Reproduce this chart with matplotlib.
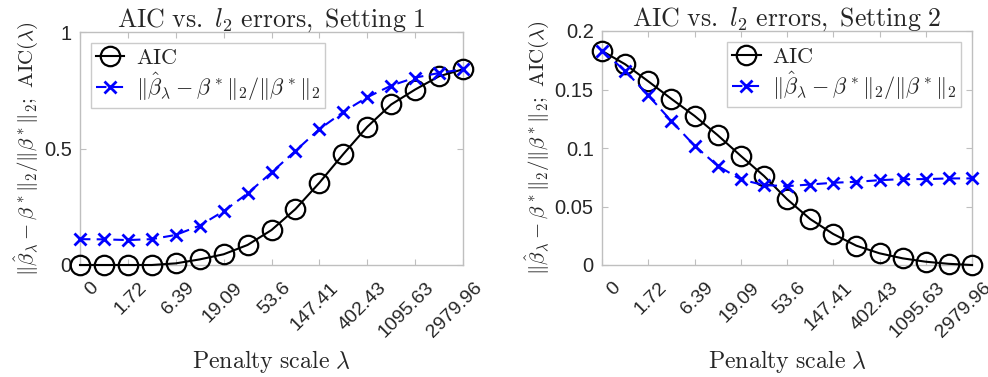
import numpy as np
import matplotlib
matplotlib.use("Agg")
import matplotlib.pyplot as plt
import matplotlib.transforms as mtransforms

# penalty grid (17 values, every other one labelled)
idx = np.arange(1, 18)
tick_labels = ["0", "1.72", "6.39", "19.09", "53.6", "147.41", "402.43", "1095.63", "2979.96"]

# Setting 1
aic1 = [0.0, 0.0, 0.0, 0.0, 0.007, 0.024, 0.046, 0.086, 0.15, 0.24, 0.353, 0.476,
        0.593, 0.689, 0.753, 0.81, 0.84]
err1 = [0.111, 0.11, 0.107, 0.111, 0.129, 0.169, 0.231, 0.307, 0.397, 0.49, 0.583,
        0.657, 0.72, 0.77, 0.804, 0.824, 0.84]

# Setting 2
aic2 = [0.183, 0.1716, 0.157, 0.142, 0.1275, 0.111, 0.0933, 0.0762, 0.0563, 0.0393,
        0.0265, 0.0165, 0.010, 0.0057, 0.0028, 0.001, 0.0]
err2 = [0.183, 0.166, 0.145, 0.123, 0.102, 0.0848, 0.0731, 0.0683, 0.0674, 0.0688,
        0.0703, 0.0711, 0.0725, 0.0734, 0.0734, 0.074, 0.074]

plt.rcParams["mathtext.fontset"] = "cm"
txt = "#262626"
edge = "#bfbfbf"

fig = plt.figure(figsize=(9.88, 3.77), dpi=100)
ax1 = fig.add_axes([80/988, 1 - 265/377, 383/988, 233/377])
ax2 = fig.add_axes([602/988, 1 - 265/377, 370/988, 234/377])

ylab = r"$\|\hat{\beta}_\lambda-\beta^*\|_2/\|\beta^*\|_2;\ \mathrm{AIC}(\lambda)$"
leglab = r"$\|\hat{\beta}_\lambda-\beta^*\|_2/\|\beta^*\|_2$"
shift = mtransforms.ScaledTranslation(10/100, -10/100, fig.dpi_scale_trans)

for ax, aic, err, n, ylim, yt, loc in [
        (ax1, aic1, err1, 1, (0, 1), [0, 0.5, 1], "upper left"),
        (ax2, aic2, err2, 2, (0, 0.2), [0, 0.05, 0.1, 0.15, 0.2], "upper right")]:
    ax.plot(idx, aic, "-o", color="black", lw=1.5, ms=14, mfc="none", mew=1.6,
            label=r"$\mathrm{AIC}$", clip_on=False, zorder=3)
    ax.plot(idx, err, "--x", color="blue", lw=1.5, ms=9, mew=2, label=leglab,
            dashes=(5, 3), clip_on=False, zorder=3)
    ax.set_xlim(1, 17)
    ax.set_ylim(*ylim)
    ax.tick_params(direction="in", top=True, right=True, length=4, color=edge)
    ax.tick_params(axis="y", pad=6)
    ax.tick_params(axis="x", pad=3)
    ax.set_xticks(idx[::2])
    ax.set_xticklabels(tick_labels, rotation=45, ha="right", va="top",
                       rotation_mode="anchor", fontsize=14, color=txt,
                       family="Liberation Sans")
    for lab in ax.get_xticklabels():
        lab.set_transform(lab.get_transform() + shift)
    ax.set_yticks(yt)
    ax.set_yticklabels([f"{v:g}" for v in yt], fontsize=14.5, color=txt,
                       family="Liberation Sans")
    for s in ax.spines.values():
        s.set_color(edge)
        s.set_linewidth(1)
    ax.set_title(r"$\mathrm{AIC\ vs.\ }l_2\mathrm{\ errors,\ Setting\ }%d$" % n,
                 fontsize=18.6, color=txt, pad=4)
    ax.set_xlabel(r"$\mathrm{Penalty\ scale\ }\lambda$", fontsize=17.2, color=txt,
                  labelpad=5)
    ax.set_ylabel(ylab, fontsize=15, color=txt, labelpad=3)
    leg = ax.legend(loc=loc, fontsize=16, frameon=True, fancybox=False,
                    edgecolor=edge, handlelength=1.3, borderpad=0.2,
                    labelspacing=0.15, handletextpad=0.5, borderaxespad=0.5)
    leg.get_frame().set_linewidth(1)
    for t in leg.get_texts():
        t.set_color(txt)

fig.savefig("out.png", dpi=100)
